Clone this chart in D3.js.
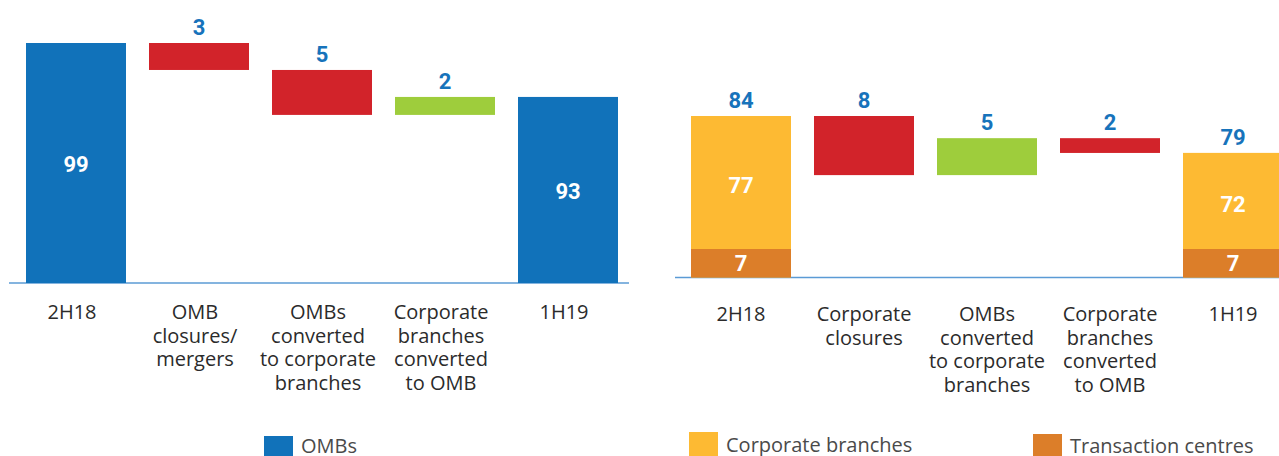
<!DOCTYPE html>
<html lang="en">
<head>
  <meta charset="UTF-8">
  <title>OMBs and corporate branches</title>
  <script src="https://d3js.org/d3.v7.min.js"></script>
  <style>
    body{
      margin:0;
      background:white;
    }
    .cat{
      font-family:"Open Sans", sans-serif;
      font-size:20px;
      fill:#2b2b2b;
    }
    .legend{
      font-family:"Open Sans", sans-serif;
      font-size:20px;
      fill:#4a4a4a;
    }
    .val{
      font-family:Roboto, sans-serif;
      font-weight:700;
      font-size:22px;
    }
  </style>
</head>
<body>
<div id="chart"></div>
<script>
// left chart: OMBs
var leftLabels = [["2H18"], ["OMB", "closures/", "mergers"], ["OMBs", "converted", "to corporate", "branches"], ["Corporate", "branches", "converted", "to OMB"], ["1H19"]];
var leftValues = [99, -3, -5, 2, 93];
var leftIsTotal = [true, false, false, false, true];

// right chart: corporate branches + transaction centres
var rightLabels = [["2H18"], ["Corporate", "closures"], ["OMBs", "converted", "to corporate", "branches"], ["Corporate", "branches", "converted", "to OMB"], ["1H19"]];
var rightValues = [84, -8, 5, -2, 79];
var rightIsTotal = [true, false, false, false, true];
var rightCorporate = [77, null, null, null, 72];
var rightTransaction = [7, null, null, null, 7];

var blue = "#1172ba", red = "#d2232a", green = "#9ecd3c", yellow = "#fdba33", orange = "#dc7e29";
var axisColour = "#5b9bd5", labelBlue = "#1773bb";

var svg = d3.select("#chart").append("svg")
  .attr("width", 1279)
  .attr("height", 456);

// turn a list of changes into floating bars
function waterfall(values, isTotal){
  var running = 0;
  return values.map(function(v, i){
    var start, end;
    if (isTotal[i]) { start = 0; end = v; running = v; }
    else { start = running; end = running + v; running = end; }
    return {i: i, value: v, total: isTotal[i], lo: Math.min(start, end), hi: Math.max(start, end), up: v > 0};
  });
}

function drawChart(g, opts){
  var bars = waterfall(opts.values, opts.isTotal);

  var x = d3.scaleBand()
    .domain(d3.range(opts.values.length))
    .range(opts.xRange)
    .paddingInner(0.187)
    .paddingOuter(0.0935);
  var y = opts.y;

  // baseline
  g.append("line")
    .attr("x1", opts.lineX[0]).attr("x2", opts.lineX[1])
    .attr("y1", y(0)).attr("y2", y(0))
    .attr("stroke", axisColour)
    .attr("stroke-width", 1.5);

  // bars
  g.selectAll("rect.bar")
    .data(bars)
    .enter().append("rect")
      .attr("class", "bar")
      .attr("x", function(d){ return x(d.i); })
      .attr("width", x.bandwidth())
      .attr("y", function(d){ return y(d.hi); })
      .attr("height", function(d){ return y(d.lo) - y(d.hi); })
      .attr("fill", function(d){
        if (d.total) return opts.totalColour;
        return d.up ? green : red;
      });

  // stacked segments on total bars (right chart)
  if (opts.lower){
    opts.lower.forEach(function(v, i){
      if (v == null) return;
      var upper = opts.upper[i];
      g.append("rect")
        .attr("x", x(i)).attr("width", x.bandwidth())
        .attr("y", y(v + upper)).attr("height", y(v) - y(v + upper))
        .attr("fill", yellow);
      g.append("rect")
        .attr("x", x(i)).attr("width", x.bandwidth())
        .attr("y", y(v)).attr("height", y(0) - y(v))
        .attr("fill", orange);
      g.append("text").attr("class", "val")
        .attr("x", x(i) + x.bandwidth() / 2)
        .attr("y", (y(v + upper) + y(v)) / 2 + 3)
        .attr("dy", "0.35em")
        .attr("text-anchor", "middle")
        .attr("fill", "white")
        .text(upper);
      g.append("text").attr("class", "val")
        .attr("x", x(i) + x.bandwidth() / 2)
        .attr("y", (y(v) + y(0)) / 2)
        .attr("dy", "0.35em")
        .attr("text-anchor", "middle")
        .attr("fill", "white")
        .text(v);
    });
  }

  // value labels above (changes, and totals on right chart)
  g.selectAll("text.top")
    .data(bars.filter(function(d){ return !d.total || opts.totalOnTop; }))
    .enter().append("text")
      .attr("class", "val top")
      .attr("x", function(d){ return x(d.i) + x.bandwidth() / 2; })
      .attr("y", function(d){ return y(d.hi) - 8; })
      .attr("text-anchor", "middle")
      .attr("fill", labelBlue)
      .text(function(d){ return Math.abs(d.value); });

  // value labels inside the blue totals (left chart)
  if (!opts.totalOnTop){
    g.selectAll("text.inside")
      .data(bars.filter(function(d){ return d.total; }))
      .enter().append("text")
        .attr("class", "val inside")
        .attr("x", function(d){ return x(d.i) + x.bandwidth() / 2; })
        .attr("y", function(d){ return (y(d.hi) + y(0)) / 2 + 1; })
        .attr("dy", "0.35em")
        .attr("text-anchor", "middle")
        .attr("fill", "white")
        .text(function(d){ return d.value; });
  }

  // category labels, several lines each
  var cats = g.selectAll("text.cat")
    .data(opts.labels)
    .enter().append("text")
      .attr("class", "cat")
      .attr("text-anchor", "middle")
      .attr("x", function(d, i){ return x(i) + x.bandwidth() / 2 + opts.labelShift; })
      .attr("y", opts.labelY);
  cats.selectAll("tspan")
    .data(function(d){ return d; })
    .enter().append("tspan")
      .attr("x", function(){ return d3.select(this.parentNode).attr("x"); })
      .attr("dy", function(d, j){ return j === 0 ? 0 : 23.5; })
      .text(function(d){ return d; });
}

// left: axis truncated, starts at about 72
drawChart(svg.append("g"), {
  labels: leftLabels,
  values: leftValues,
  isTotal: leftIsTotal,
  xRange: [14.5, 629.5],
  lineX: [9, 629],
  y: d3.scaleLinear().domain([72.3, 99]).range([283, 43]).clamp(true),
  totalColour: blue,
  totalOnTop: false,
  labelY: 319,
  labelShift: -4
});

// right: short bottom segment, then a break up to about 66
drawChart(svg.append("g"), {
  labels: rightLabels,
  values: rightValues,
  isTotal: rightIsTotal,
  xRange: [679.5, 1294.5],
  lineX: [675, 1279],
  y: d3.scaleLinear().domain([0, 7, 66, 84]).range([277.5, 249, 249, 116]),
  totalColour: yellow,
  totalOnTop: true,
  lower: rightTransaction,
  upper: rightCorporate,
  labelY: 321,
  labelShift: 0
});

// legends
var legendItems = [
  {x: 264, y: 436, colour: blue, text: "OMBs", ty: 453},
  {x: 689, y: 432, colour: yellow, text: "Corporate branches", ty: 452},
  {x: 1033, y: 434, colour: orange, text: "Transaction centres", ty: 453}
];
var leg = svg.selectAll("g.leg")
  .data(legendItems)
  .enter().append("g")
    .attr("class", "leg");
leg.append("rect")
  .attr("x", function(d){ return d.x; })
  .attr("y", function(d){ return d.y; })
  .attr("width", 29)
  .attr("height", 26)
  .attr("fill", function(d){ return d.colour; });
leg.append("text")
  .attr("class", "legend")
  .attr("x", function(d){ return d.x + 37; })
  .attr("y", function(d){ return d.ty; })
  .text(function(d){ return d.text; });
</script>
</body>
</html>
